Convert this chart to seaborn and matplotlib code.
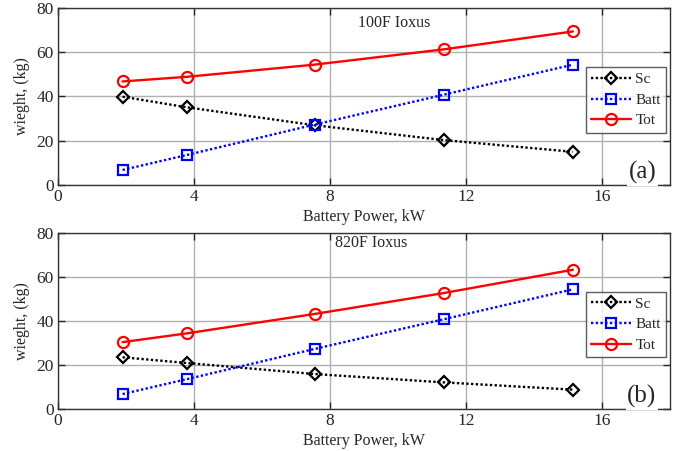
import matplotlib
matplotlib.use("Agg")
import matplotlib.pyplot as plt
import seaborn as sns
import pandas as pd

power = [1.9, 3.8, 7.55, 11.35, 15.15]
sc_a = [39.9, 35.1, 27.0, 20.3, 15.0]
batt_a = [6.8, 13.6, 27.3, 40.8, 54.4]
tot_a = [46.8, 48.9, 54.4, 61.3, 69.4]
sc_b = [23.5, 20.9, 15.9, 12.1, 8.8]
batt_b = [6.8, 13.6, 27.3, 40.8, 54.4]
tot_b = [30.4, 34.4, 43.2, 52.7, 63.3]
titles = ["100F Ioxus", "820F Ioxus"]
panel_labels = ["(a)", "(b)"]
xticks = [0, 4, 8, 12, 16]
yticks = [0, 20, 40, 60, 80]

sns.set_style("white")
plt.rcParams['font.family'] = ['Liberation Serif', 'DejaVu Serif']

fig = plt.figure(figsize=(6.8, 4.51), dpi=100)
ax_a = fig.add_axes([0.0853, 0.5898, 0.8997, 0.3925])
ax_b = fig.add_axes([0.0853, 0.0931, 0.8997, 0.3903])

series_style = [
    ("Sc", "black", (0, (1, 1)), "D", 6),
    ("Batt", "blue", (0, (1, 1)), "s", 6.5),
    ("Tot", "red", "-", "o", 8),
]

title_pos = [(0.49, 0.915), (0.453, 0.943)]

for i, (ax, sc, batt, tot) in enumerate([(ax_a, sc_a, batt_a, tot_a),
                                         (ax_b, sc_b, batt_b, tot_b)]):
    df = pd.DataFrame({"power": power, "Sc": sc, "Batt": batt, "Tot": tot})
    for name, color, ls, mk, ms in series_style:
        sns.lineplot(data=df, x="power", y=name, ax=ax, color=color, linestyle=ls,
                     linewidth=1.7, marker=mk, markersize=ms, markerfacecolor="none",
                     markeredgecolor=color, markeredgewidth=1.6, label=name)
    ax.set_xlim(0, 18)
    ax.set_ylim(0, 80)
    ax.set_xticks(xticks)
    ax.set_yticks(yticks)
    ax.grid(True, color="#b0b0b0", linewidth=1.0)
    ax.set_axisbelow(True)
    for s in ax.spines.values():
        s.set_color("#333333")
        s.set_linewidth(1.0)
    ax.tick_params(axis="both", direction="in", length=5, width=1, labelsize=12.5,
                   top=True, right=True, left=True, bottom=True, pad=3)
    ax.set_xlabel("Battery Power, kW", fontsize=11.5, labelpad=3)
    ax.set_ylabel("wieght, (kg)", fontsize=11.5, labelpad=5)
    tx, ty = title_pos[i]
    ax.text(tx, ty, titles[i], transform=ax.transAxes, fontsize=11.5, ha="left", va="center")
    ax.text(0.978, 0.005, panel_labels[i], transform=ax.transAxes, fontsize=18, ha="right",
            va="bottom", bbox=dict(facecolor="white", edgecolor="none", pad=1))
    leg = ax.legend(loc="center right", bbox_to_anchor=(0.999, 0.48), fontsize=11,
                    frameon=True, fancybox=False, handlelength=2.6, borderpad=0.35,
                    labelspacing=0.45, handletextpad=0.3, borderaxespad=0.2)
    leg.get_frame().set_edgecolor("#333333")
    leg.get_frame().set_linewidth(1.0)

fig.savefig("out.png", dpi=100)
